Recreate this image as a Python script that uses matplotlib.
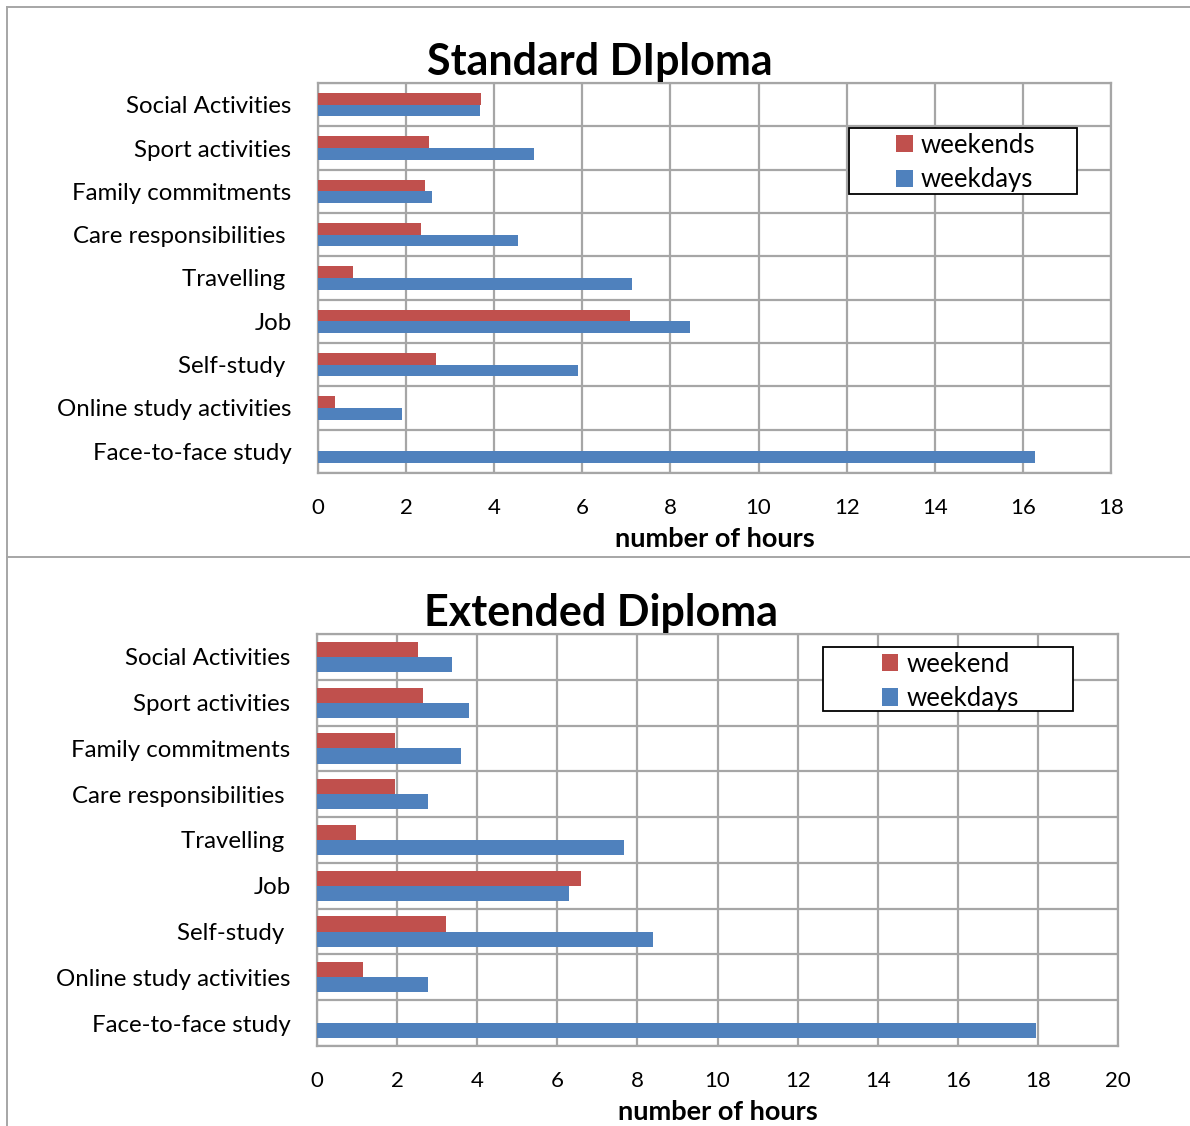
import numpy as np
import matplotlib.pyplot as plt
from matplotlib.patches import Rectangle
from matplotlib.lines import Line2D

plt.rcParams['font.family'] = ['Lato', 'DejaVu Sans']

categories = ['Social Activities', 'Sport activities', 'Family commitments',
              'Care responsibilities ', 'Travelling ', 'Job', 'Self-study ',
              'Online study activities', 'Face-to-face study']

std_weekends = [3.7, 2.53, 2.43, 2.34, 0.79, 7.09, 2.68, 0.39, 0.0]
std_weekdays = [3.67, 4.9, 2.59, 4.55, 7.13, 8.44, 5.9, 1.9, 16.27]

ext_weekend = [2.52, 2.65, 1.96, 1.95, 0.97, 6.59, 3.23, 1.16, 0.0]
ext_weekdays = [3.36, 3.79, 3.59, 2.78, 7.67, 6.3, 8.4, 2.78, 17.95]

red = '#C0504D'
blue = '#4F81BD'
grid_col = '#A6A6A6'

fig = plt.figure(figsize=(11.9, 11.26), dpi=100)


def draw(ax, wkend, wkday, labels, xmax, bar_h, title, title_x, leg_box, leg_anchor):
    y = np.arange(len(categories))
    ax.barh(y - bar_h / 2, wkend, height=bar_h, color=red, label=labels[0], zorder=3)
    ax.barh(y + bar_h / 2, wkday, height=bar_h, color=blue, label=labels[1], zorder=3)
    ax.set_ylim(len(categories) - 0.5, -0.5)
    ax.set_xlim(0, xmax)
    ax.set_xticks(np.arange(0, xmax + 1, 2))
    ax.set_yticks(y)
    ax.set_yticklabels(categories)
    ax.set_yticks(np.arange(-0.5, len(categories), 1), minor=True)
    ax.tick_params(axis='y', which='both', length=0, labelsize=17.3, pad=19)
    ax.tick_params(axis='x', length=0, labelsize=16, pad=18)
    ax.grid(True, axis='x', color=grid_col, linewidth=1.6, zorder=0)
    ax.grid(True, axis='y', which='minor', color=grid_col, linewidth=1.6, zorder=0)
    ax.set_axisbelow(True)
    for s in ax.spines.values():
        s.set_color(grid_col)
        s.set_linewidth(1.6)
    ax.set_xlabel('number of hours', fontsize=19.5, fontweight='bold', labelpad=6.5)
    ax.set_title(title, fontsize=31, fontweight='bold', pad=6, x=title_x)

    ax.add_patch(Rectangle(leg_box[:2], leg_box[2], leg_box[3], transform=ax.transAxes,
                           facecolor='white', edgecolor='black', linewidth=1.3,
                           zorder=5, clip_on=False))
    leg = ax.legend(loc='upper left', bbox_to_anchor=leg_anchor, frameon=False,
                    fontsize=18.5, handlelength=0.65, handleheight=0.65,
                    handletextpad=0.32, labelspacing=0.36, borderpad=0,
                    borderaxespad=0)
    leg.set_zorder(6)


ax1 = fig.add_axes([318 / 1190, 1 - 473 / 1126, 793 / 1190, 390 / 1126])
draw(ax1, std_weekends, std_weekdays, ['weekends', 'weekdays'], 18, 0.27,
     'Standard DIploma', 0.356, (0.670, 0.715, 0.287, 0.170), (0.729, 0.872))

ax2 = fig.add_axes([317 / 1190, 1 - 1046 / 1126, 801 / 1190, 412 / 1126])
draw(ax2, ext_weekend, ext_weekdays, ['weekend', 'weekdays'], 20, 0.33,
     'Extended Diploma', 0.355, (0.632, 0.813, 0.312, 0.155), (0.705, 0.957))

# outer frame lines
line_kw = dict(color=grid_col, linewidth=1.4, transform=fig.transFigure)
fig.add_artist(Line2D([7 / 1190, 1], [1 - 7 / 1126, 1 - 7 / 1126], **line_kw))
fig.add_artist(Line2D([7 / 1190, 7 / 1190], [0, 1 - 7 / 1126], **line_kw))
fig.add_artist(Line2D([7 / 1190, 1], [1 - 557 / 1126, 1 - 557 / 1126], **line_kw))

fig.savefig('out.png', dpi=100, facecolor='white')
